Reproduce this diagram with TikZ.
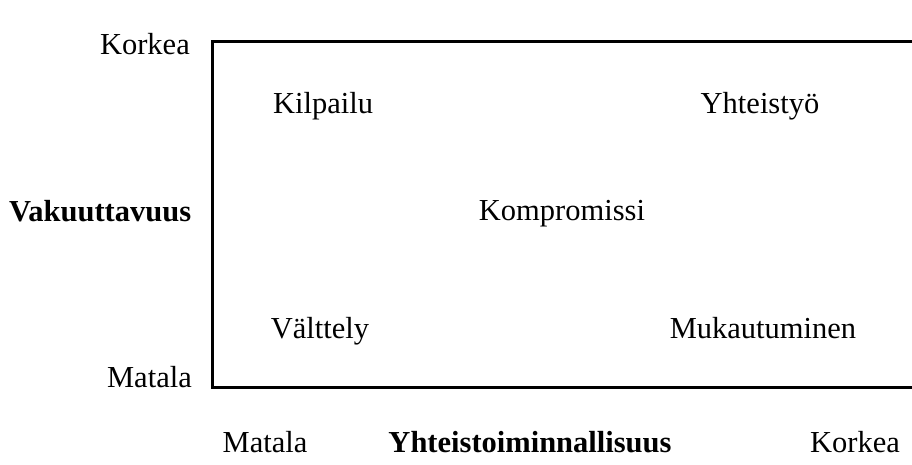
\documentclass[tikz,border=0pt]{standalone}
\usepackage{fontspec}
\setmainfont{Liberation Serif}
\begin{document}
\begin{tikzpicture}[x=1pt,y=-1pt,
  lbl/.style={inner sep=0pt,font=\fontsize{30.5}{36}\selectfont},
  axl/.style={lbl,font=\fontsize{30.5}{36}\selectfont\bfseries},
  axisline/.style={line width=3pt,line cap=rect}]
\useasboundingbox (0,0) rectangle (912,465);
\coordinate (tl) at (212,42);
\coordinate (tr) at (913,42);
\coordinate (bl) at (212,387);
\coordinate (br) at (913,387);
\draw[axisline] (tr) -- (tl) -- (bl) -- (br);
\node[lbl,anchor=base east] (yhi) at (190,55) {Korkea};
\node[lbl,anchor=base east] (ylo) at (192,387) {Matala};
\node[axl,anchor=base west] (ytit) at (9,221) {Vakuuttavuus};
\node[lbl,anchor=base] (xlo) at (265,452) {Matala};
\node[axl,anchor=base] (xtit) at (530,452) {Yhteistoiminnallisuus};
\node[lbl,anchor=base] (xhi) at (855,452) {Korkea};
\node[lbl,anchor=base] (kil) at (323,114) {Kilpailu};
\node[lbl,anchor=base] (yht) at (760,114) {Yhteistyö};
\node[lbl,anchor=base] (kom) at (562,220) {Kompromissi};
\node[lbl,anchor=base] (val) at (320,338) {Välttely};
\node[lbl,anchor=base] (muk) at (763,338) {Mukautuminen};
\end{tikzpicture}
\end{document}
